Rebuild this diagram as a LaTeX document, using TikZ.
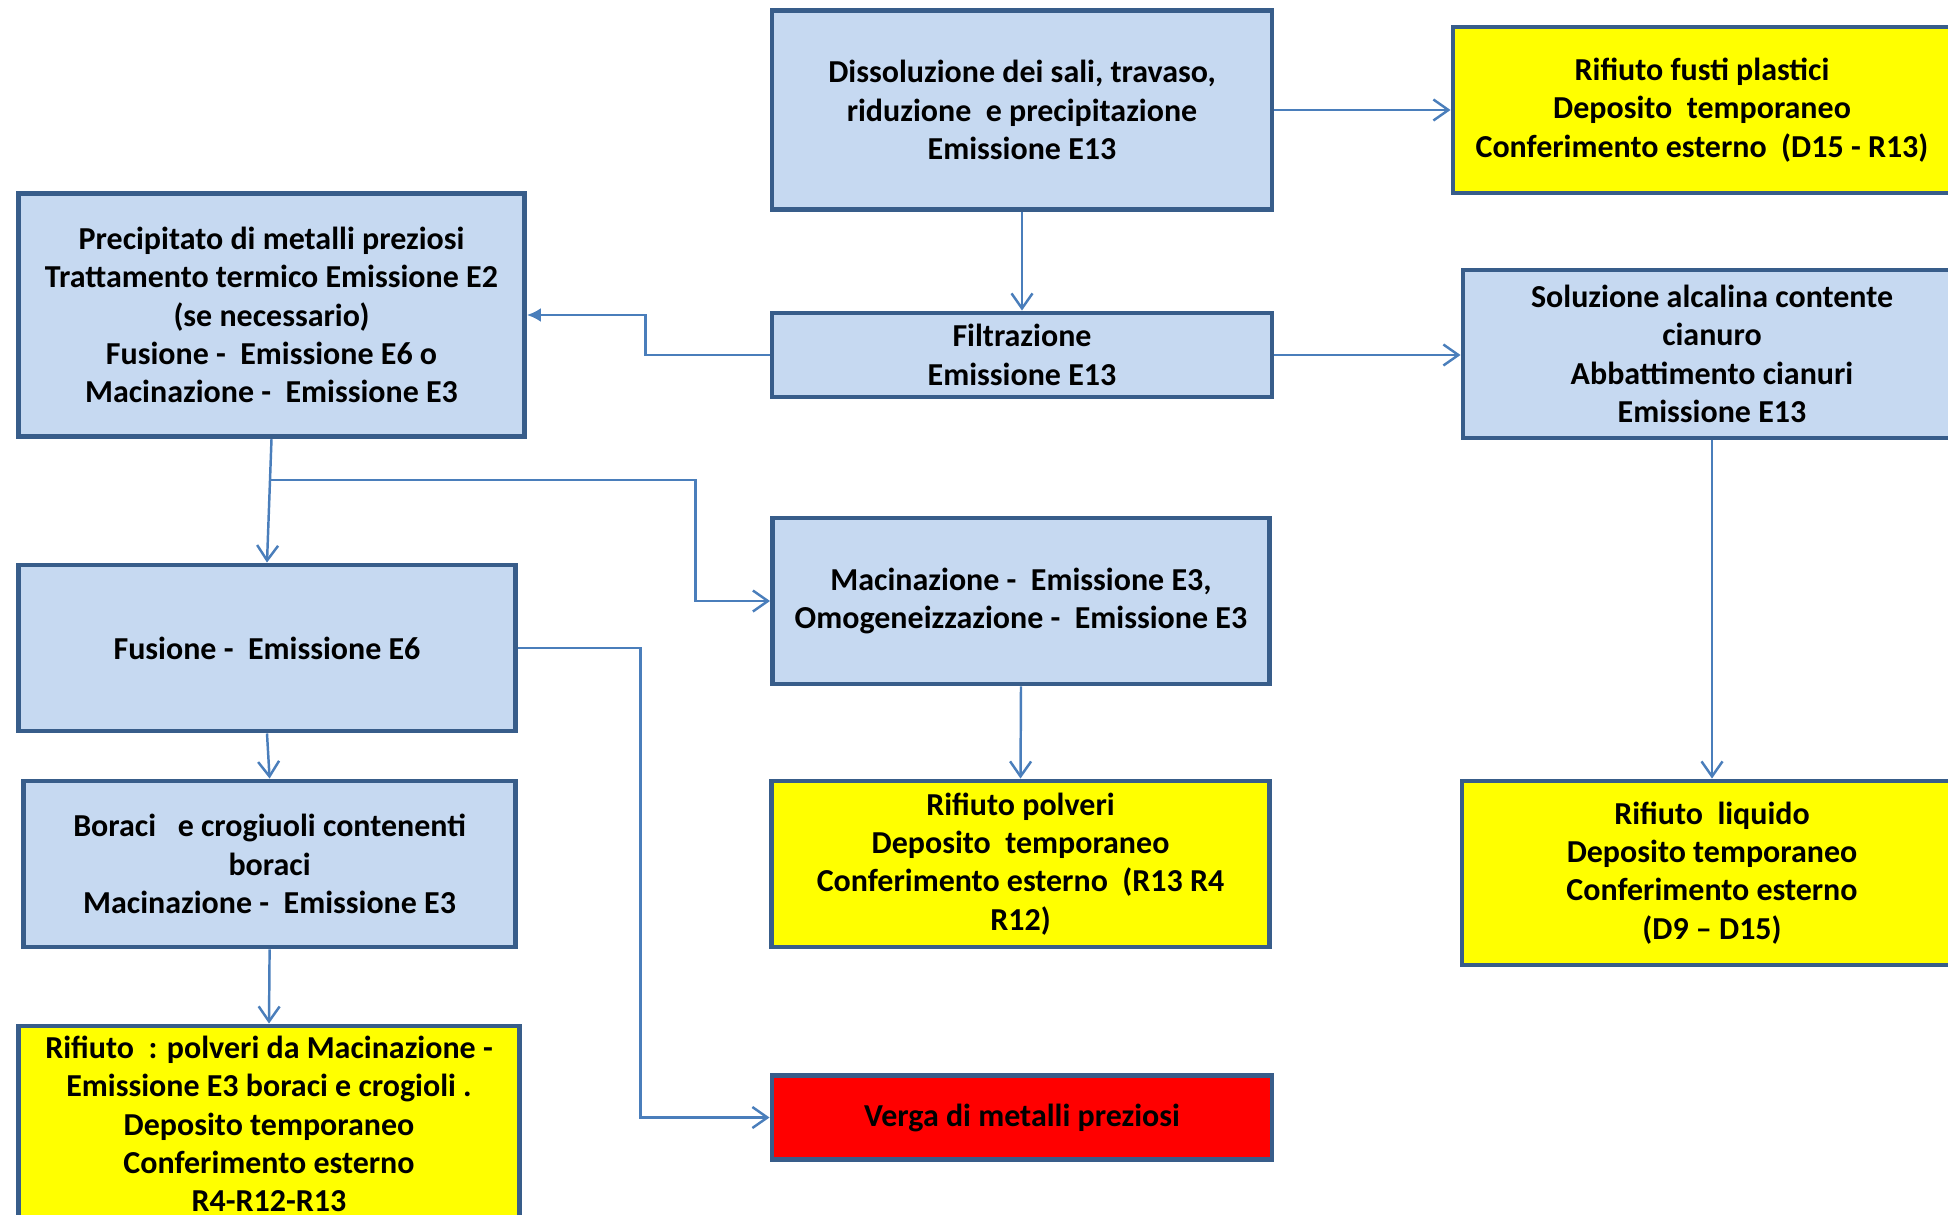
\documentclass[tikz,border=0pt]{standalone}
\usepackage{fontspec}
\setmainfont{Carlito}
\usepackage{tikz}
\usetikzlibrary{arrows.meta,calc}

\definecolor{boxline}{RGB}{56,93,138}
\definecolor{boxfill}{RGB}{198,217,241}
\definecolor{wireblue}{RGB}{74,126,187}
\definecolor{wasteyellow}{RGB}{255,255,0}
\definecolor{barred}{RGB}{255,0,0}

\tikzset{
	stage/.style={rectangle,draw=boxline,line width=1.4pt,fill=boxfill,align=center,inner sep=0pt,
		font=\fontsize{9.1}{10.9}\selectfont\bfseries},
	waste/.style={stage,fill=wasteyellow},
	product/.style={stage,fill=barred},
	flow/.style={draw=wireblue,line width=0.7pt,-{Straight Barb[length=1.5mm,width=2.1mm]}},
}

\begin{document}
\begin{tikzpicture}
		\useasboundingbox (0,0) rectangle (19.48,-12.15);
		\clip (0,0) rectangle (19.48,-12.15);
%		\draw[help lines] (0,0) grid (19.48,-12.15);
		\path (10.22,-1.10) node(dissol) [stage,minimum width=5cm,minimum height=1.99cm] {Dissoluzione dei sali, travaso,\\ riduzione\ \ e precipitazione\\ Emissione E13};
		\path (17.02,-1.10) node(fusti) [waste,minimum width=4.98cm,minimum height=1.66cm] {Rifiuto fusti plastici\\ Deposito\ \ temporaneo\\ Conferimento esterno\ \ (D15 - R13)};
		\path (2.715,-3.15) node(precip) [stage,minimum width=5.06cm,minimum height=2.435cm] {Precipitato di metalli preziosi\\ Trattamento termico Emissione E2\\ (se necessario)\\ Fusione -\ \ Emissione E6 o\\ Macinazione -\ \ Emissione E3};
		\path (10.22,-3.55) node(filtr) [stage,minimum width=5cm,minimum height=0.84cm] {Filtrazione\\ Emissione E13};
		\path (17.12,-3.54) node(soluz) [stage,minimum width=4.98cm,minimum height=1.68cm] {Soluzione alcalina contente\\ cianuro\\ Abbattimento cianuri\\ Emissione E13};
		\path (2.67,-6.48) node(fusione) [stage,minimum width=4.97cm,minimum height=1.66cm] {Fusione -\ \ Emissione E6};
		\path (10.21,-6.01) node(macin) [stage,minimum width=4.97cm,minimum height=1.66cm] {Macinazione -\ \ Emissione E3,\\ Omogeneizzazione -\ \ Emissione E3};
		\path (2.696,-8.64) node(boraci) [stage,minimum width=4.92cm,minimum height=1.66cm] {Boraci\ \ \ e crogiuoli contenenti\\ boraci\\ Macinazione -\ \ Emissione E3};
		\path (10.205,-8.64) node(polveri) [waste,minimum width=4.98cm,minimum height=1.66cm] {Rifiuto polveri\\ Deposito\ \ temporaneo\\ Conferimento esterno\ \ (R13 R4\\ R12)};
		\path (17.12,-8.73) node(liquido) [waste,minimum width=5cm,minimum height=1.84cm] {Rifiuto\ \ liquido\\ Deposito temporaneo\\ Conferimento esterno\\ (D9 -- D15)};
		\path (2.69,-11.24) node(scarto) [waste,minimum width=5.01cm,minimum height=1.96cm] {Rifiuto\ \ : polveri da Macinazione -\\ Emissione E3 boraci e crogioli .\\ Deposito temporaneo\\ Conferimento esterno\\ R4-R12-R13};
		\path (10.22,-11.175) node(verga) [product,minimum width=5cm,minimum height=0.84cm] {Verga di metalli preziosi};

		\path ($(precip.south)!0.33!(fusione.north)$) coordinate (branch);

		\draw[flow] (dissol.south) -- (filtr.north);
		\draw[flow] (dissol.east) -- (fusti.west);
		\draw[flow] (filtr.east) -- (filtr.east -| soluz.west);
		\draw[flow,-{Latex[length=1.4mm,width=1.4mm]}] (filtr.west) -- ++(-1.24,0) |- (precip.east);
		\draw[flow] (precip.south) -- (fusione.north);
		\draw[flow] (branch) -| ($(macin.west)+(-0.745,0)$) -- (macin.west);
		\draw[flow] (fusione.east) -| ($(verga.west)+(-1.29,0)$) -- (verga.west);
		\draw[flow] (fusione.south) -- (boraci.north);
		\draw[flow] (boraci.south) -- (scarto.north);
		\draw[flow] (macin.south) -- (polveri.north);
		\draw[flow] (soluz.south) -- (liquido.north);
	\end{tikzpicture}
\end{document}
